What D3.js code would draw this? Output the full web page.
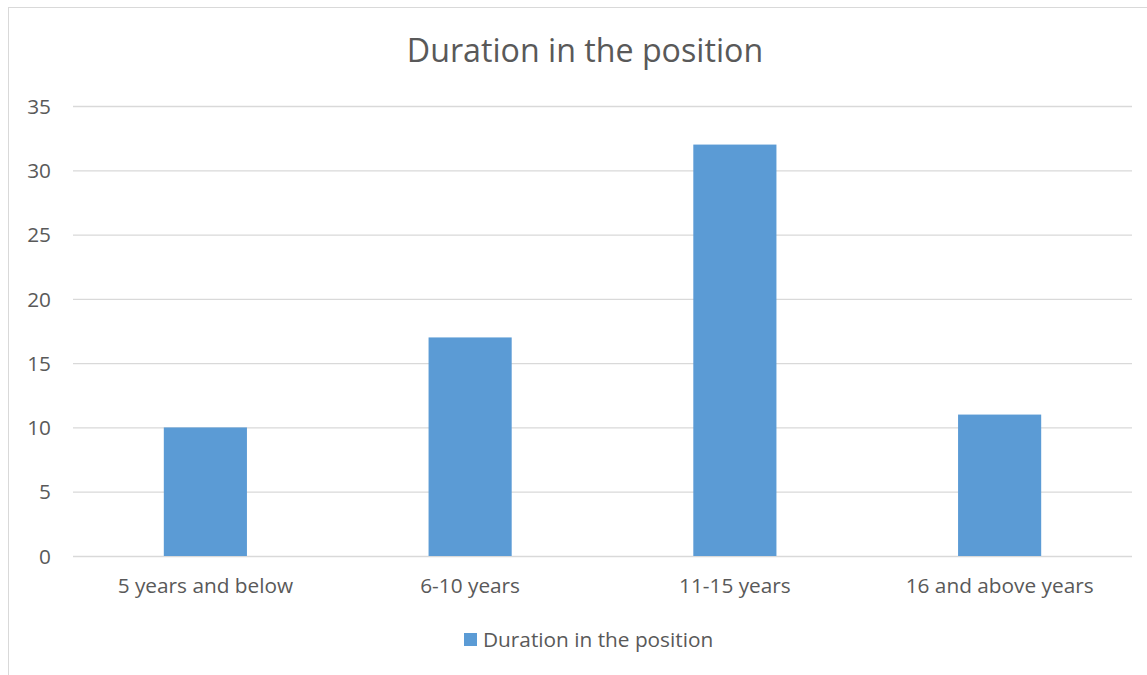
<!DOCTYPE html>
<html>
<head>
<meta charset="utf-8">
<script src="https://cdn.jsdelivr.net/npm/d3@7"></script>
<style>
  html, body { margin: 0; padding: 0; background: #fff; }
  svg { display: block; }
  text { font-family: "Open Sans", "Noto Sans", sans-serif; fill: #595959; }
</style>
</head>
<body>
<svg id="chart" width="1147" height="675"></svg>
<script>
const categories = ["5 years and below", "6-10 years", "11-15 years", "16 and above years"];
const values = [10, 17, 32, 11];
const yTicks = [0, 5, 10, 15, 20, 25, 30, 35];
const seriesName = "Duration in the position";
const chartTitle = "Duration in the position";

const W = 1147, H = 675;
const plot = { left: 73, right: 1132, top: 106, bottom: 556 };
const barColor = "#5b9bd5";
const gridColor = "#d9d9d9";
const labelSize = 20.8;

const svg = d3.select("#chart");

// outer chart frame (left and top edges visible)
svg.append("rect")
  .attr("x", 8.5).attr("y", 7.5)
  .attr("width", W + 20).attr("height", H + 20)
  .attr("fill", "none").attr("stroke", "#d9d9d9").attr("stroke-width", 1);

const x = d3.scaleBand()
  .domain(categories)
  .range([plot.left, plot.right])
  .paddingInner(0.686)
  .paddingOuter(0.343);

const y = d3.scaleLinear()
  .domain([0, 35])
  .range([plot.bottom, plot.top]);

// horizontal gridlines
svg.append("g")
  .selectAll("line")
  .data(yTicks)
  .join("line")
  .attr("x1", plot.left).attr("x2", plot.right)
  .attr("y1", d => y(d) + 0.5).attr("y2", d => y(d) + 0.5)
  .attr("stroke", gridColor).attr("stroke-width", 1.3);

// y-axis labels
const yAxis = d3.axisLeft(y).tickValues(yTicks).tickSize(0).tickPadding(0);
const gy = svg.append("g")
  .attr("transform", `translate(${plot.left - 22},0)`)
  .call(yAxis);
gy.select(".domain").remove();
gy.selectAll("text")
  .attr("font-size", labelSize)
  .attr("font-family", "\"Open Sans\", sans-serif")
  .attr("fill", "#595959")
  .attr("dy", "0.35em");

// bars
svg.append("g")
  .selectAll("rect")
  .data(values)
  .join("rect")
  .attr("x", (d, i) => x(categories[i]))
  .attr("width", x.bandwidth())
  .attr("y", d => y(d))
  .attr("height", d => y(0) - y(d))
  .attr("fill", barColor);

// x-axis labels
const xAxis = d3.axisBottom(x).tickSize(0).tickPadding(0);
const gx = svg.append("g")
  .attr("transform", `translate(0,${plot.bottom + 37})`)
  .call(xAxis);
gx.select(".domain").remove();
gx.selectAll("text")
  .attr("font-size", labelSize)
  .attr("font-family", "\"Open Sans\", sans-serif")
  .attr("fill", "#595959")
  .attr("dy", "0");

// title
svg.append("text")
  .attr("x", 585).attr("y", 62)
  .attr("text-anchor", "middle")
  .attr("font-size", 32.2)
  .text(chartTitle);

// legend
const legend = svg.append("g").attr("transform", "translate(464,633)");
legend.append("rect")
  .attr("width", 13).attr("height", 13)
  .attr("fill", barColor);
legend.append("text")
  .attr("x", 19).attr("y", 14)
  .attr("font-size", labelSize)
  .text(seriesName);
</script>
</body>
</html>
